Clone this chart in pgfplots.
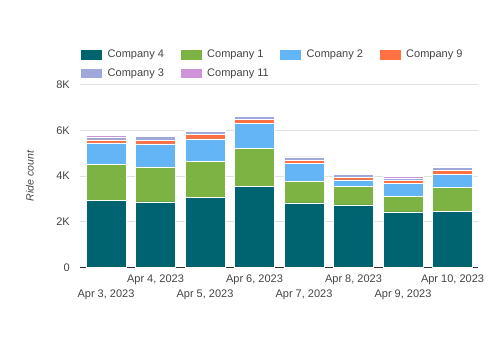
\documentclass[border=0pt]{standalone}
\usepackage{fontspec}
\setmainfont{Liberation Sans}
\usepackage{pgfplots}
\pgfplotsset{compat=1.18}
\usepackage{pgfplotstable}
\definecolor{cA}{RGB}{0,99,112}
\definecolor{cB}{RGB}{124,179,66}
\definecolor{cC}{RGB}{100,181,246}
\definecolor{cD}{RGB}{255,112,67}
\definecolor{cE}{RGB}{159,168,218}
\definecolor{cF}{RGB}{206,147,216}
\definecolor{txt}{RGB}{68,68,68}
\definecolor{gridc}{RGB}{224,224,224}
\pgfplotstableread{
x C4 C1 C2 C9 C3 C11
0 2950 1550 950 130 130 60
1 2870 1530 1000 150 170 40
2 3070 1580 970 190 150 50
3 3560 1640 1100 160 140 60
4 2830 960 750 140 120 40
5 2740 820 270 120 120 40
6 2430 690 550 130 120 50
7 2460 1040 580 160 150 50
}\data
\newcommand{\lf}{\fontsize{11bp}{13bp}\selectfont}
\begin{document}
\begin{tikzpicture}
\useasboundingbox (0,0) rectangle (500bp,362bp);
\begin{axis}[
  at={(80bp,94.5bp)}, anchor=south west,
  scale only axis, width=398bp, height=183bp,
  ybar stacked, bar width=0.8,
  xmin=-0.525, xmax=7.515, ymin=0, ymax=8000,
  axis lines=left, axis line style={-},
  y axis line style={draw=none},
  x axis line style={draw=black!80, line width=1bp},
  major tick length=0pt,
  ymajorgrids, grid style={draw=gridc, line width=1bp},
  ytick={0,2000,4000,6000,8000},
  yticklabels={0,2K,4K,6K,8K},
  yticklabel style={anchor=east, inner xsep=0pt, xshift=-10bp, font=\lf, text=txt},
  xtick={1,3,5,7},
  xticklabels={{Apr 4, 2023},{Apr 6, 2023},{Apr 8, 2023},{Apr 10, 2023}},
  extra x ticks={0,2,4,6},
  extra x tick labels={{Apr 3, 2023},{Apr 5, 2023},{Apr 7, 2023},{Apr 9, 2023}},
  extra x tick style={xticklabel style={yshift=-14.3bp}},
  xticklabel style={anchor=north, inner ysep=0pt, yshift=-7.5bp, font=\lf, text=txt},
  ylabel={Ride count},
  every axis y label/.style={at={(axis description cs:-0.126,0.5)}, rotate=90, anchor=center, font=\fontsize{10.5bp}{12bp}\selectfont\itshape, text=txt},
  legend columns=4,
  legend cell align=left,
  legend style={at={(axis description cs:0,1)}, anchor=south west, yshift=5.5bp,
    draw=none, fill=none, inner sep=0pt, column sep=0pt, row sep=7.5bp,
    font=\lf, text=txt, nodes={inner xsep=0pt, inner ysep=0pt}},
  legend image code/.code={\fill[#1] (0bp,-5.25bp) rectangle (22bp,5.25bp);},
]
\addplot[fill=cA, draw=white, line width=0.5bp] table[x=x,y=C4]{\data};
\addlegendentry{\hspace{5bp}\makebox[72bp][l]{Company 4}}
\addplot[fill=cB, draw=white, line width=0.5bp] table[x=x,y=C1]{\data};
\addlegendentry{\hspace{5bp}\makebox[72bp][l]{Company 1}}
\addplot[fill=cC, draw=white, line width=0.5bp] table[x=x,y=C2]{\data};
\addlegendentry{\hspace{5bp}\makebox[72bp][l]{Company 2}}
\addplot[fill=cD, draw=white, line width=0.5bp] table[x=x,y=C9]{\data};
\addlegendentry{\hspace{5bp}\makebox[72bp][l]{Company 9}}
\addplot[fill=cE, draw=white, line width=0.5bp] table[x=x,y=C3]{\data};
\addlegendentry{\hspace{5bp}\makebox[72bp][l]{Company 3}}
\addplot[fill=cF, draw=white, line width=0.5bp] table[x=x,y=C11]{\data};
\addlegendentry{\hspace{5bp}\makebox[72bp][l]{Company 11}}
\end{axis}
\end{tikzpicture}
\end{document}
